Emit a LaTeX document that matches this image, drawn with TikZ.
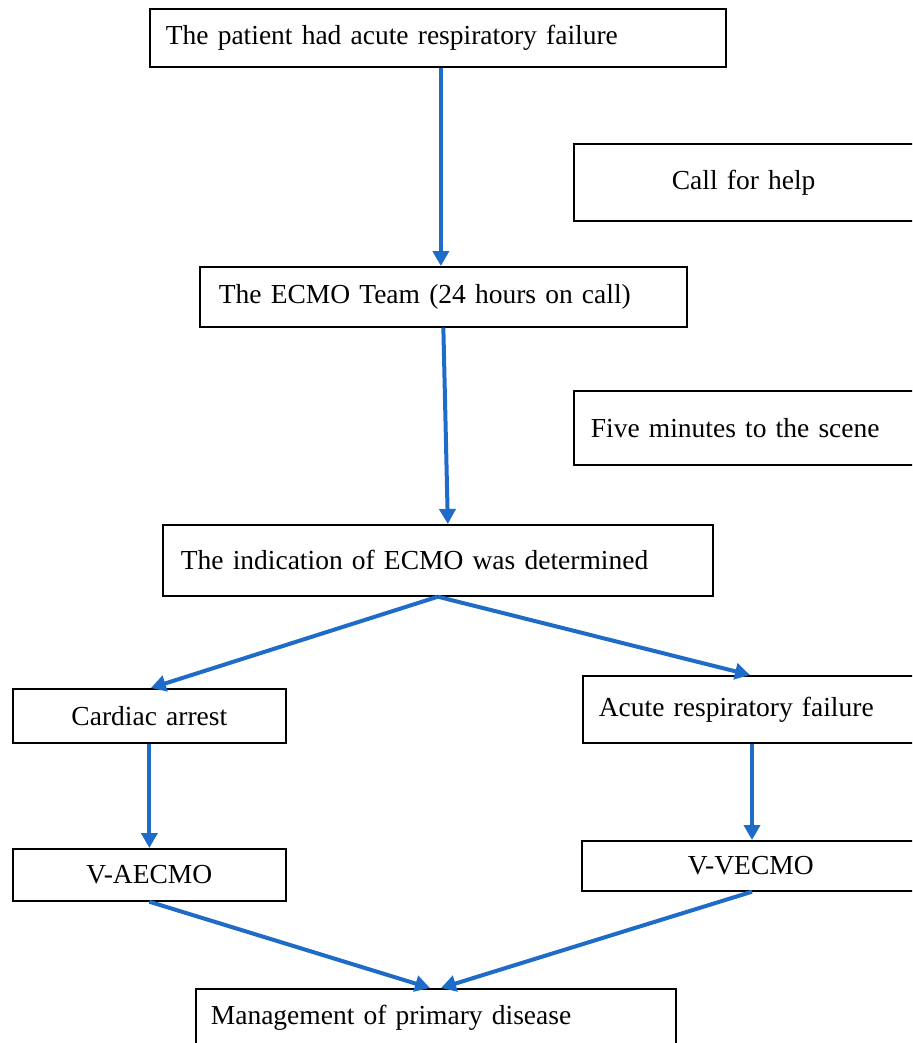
\documentclass[tikz,border=0pt]{standalone}
\usepackage{fontspec}
\setmainfont{Liberation Serif}
\usetikzlibrary{arrows.meta}
\definecolor{flowblue}{RGB}{30,108,200}
\begin{document}
\begin{tikzpicture}[x=1pt,y=-1pt,
  box/.style={draw=black, line width=1.7pt, rectangle, anchor=north west, inner ysep=0pt,
    font=\fontsize{27.5}{31}\selectfont},
  lbox/.style={box, align=left},
  cbox/.style={box, align=center},
  flow/.style={draw=flowblue, line width=4pt, -{Triangle[width=16pt,length=15pt]}}]
\useasboundingbox (0,0) rectangle (912,1043);
\clip (0,0) rectangle (912,1043);
\fill[white] (0,0) rectangle (912,1043);

\node[lbox, minimum height=58pt, inner xsep=16pt, text width=544pt] (n1) at (149,8) {The patient had acute respiratory failure};
\node[lbox, minimum height=60pt, inner xsep=19pt, text width=449pt] (n2) at (199,266) {The ECMO Team (24 hours on call)};
\node[lbox, minimum height=77pt, inner xsep=98pt, text width=204pt] (help) at (573,143) {Call for help};
\node[lbox, minimum height=74pt, inner xsep=17pt, text width=366pt] (five) at (573,390) {Five minutes to the scene};
\node[lbox, minimum height=71pt, inner xsep=18pt, text width=514pt] (ind) at (162,524) {The indication of ECMO was determined};
\node[cbox, minimum height=54pt, inner xsep=5pt, text width=263pt] (card) at (12,688) {Cardiac arrest};
\node[lbox, minimum height=67pt, inner xsep=16pt, text width=368pt] (acute) at (582,675) {Acute respiratory failure};
\node[cbox, minimum height=52pt, inner xsep=5pt, text width=263pt] (vae) at (12,848) {V-AECMO};
\node[lbox, minimum height=50pt, inner xsep=106pt, text width=188pt] (vve) at (581,840) {V-VECMO};
\node[lbox, minimum height=80pt, inner xsep=15pt, text width=450pt, text height=36pt, text depth=44pt] (mgmt) at (195,988) {Management of primary disease};

\draw[flow] ([xshift=3pt]n1.south) -- ([xshift=3pt]n1.south |- n2.north);
\draw[flow] (n2.south) -- ([xshift=10pt]ind.north);
\draw[flow] (ind.south) -- ([xshift=1.5pt]card.north);
\draw[flow] (ind.south) -- ([xshift=168pt]acute.north west);
\draw[flow] (card.south) -- (vae.north);
\draw[flow] ([xshift=170pt]acute.south west) -- ([xshift=171pt]vve.north west);
\draw[flow] (vae.south) -- ([xshift=235pt]mgmt.north west);
\draw[flow] ([xshift=171pt]vve.south west) -- ([xshift=246pt]mgmt.north west);
\end{tikzpicture}
\end{document}
